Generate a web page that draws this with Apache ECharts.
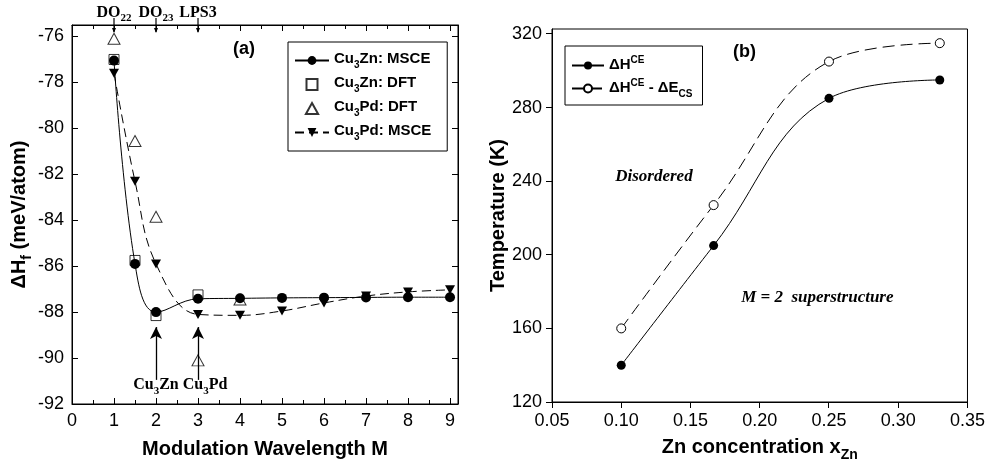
<!DOCTYPE html>
<html><head><meta charset="utf-8">
<script src="https://cdn.jsdelivr.net/npm/echarts@6/dist/echarts.min.js"></script>
<style>html,body{margin:0;padding:0;background:#fff}#c{width:988px;height:467px}</style>
</head><body><div id="c"></div>
<script>
// ---------- Panel (a) data ----------
const M_znMSCE = [1, 1.5, 2, 3, 4, 5, 6, 7, 8, 9];
const cu3znMSCE = [-77.05, -85.9, -88.0, -87.42, -87.4, -87.38, -87.37, -87.36, -87.35, -87.35];
const M_znDFT = [1, 1.5, 2, 3];
const cu3znDFT = [-77.0, -85.75, -88.15, -87.25];
const M_pdDFT = [1, 1.5, 2, 3, 4];
const cu3pdDFT = [-76.1, -80.55, -83.85, -90.1, -87.45];
const M_pdMSCE = [1, 1.5, 2, 3, 4, 5, 6, 7, 8, 9];
const cu3pdMSCE = [-77.6, -82.3, -85.9, -88.1, -88.14, -87.95, -87.6, -87.3, -87.12, -87.03];
const topLabels = {1: '{b|DO}{s|22}', 2: '{b|DO}{s|23}', 3: '{b|LPS3}'};
const groundStates = [{M: 2, name: 'Zn', dx: 0}, {M: 3, name: 'Pd', dx: 7}];

// ---------- Panel (b) data ----------
const xZn = [0.10, 0.1667, 0.25, 0.33];
const dHCE = [140, 205, 285, 295];
const dHCEminusCS = [160, 227, 305, 315];

const zip = (xs, ys) => xs.map((x, i) => [x, ys[i]]);
const BLACK = '#000';
const sans = 'Liberation Sans, Arial, sans-serif';
const serif = 'Liberation Serif, Times New Roman, serif';

const legRich = {
  a: {fontFamily: sans, fontWeight: 'bold', fontSize: 15, color: BLACK, padding: [0, 0, 4, 0], verticalAlign: 'bottom'},
  s: {fontFamily: sans, fontWeight: 'bold', fontSize: 10, color: BLACK, verticalAlign: 'bottom'},
  u: {fontFamily: sans, fontWeight: 'bold', fontSize: 10, color: BLACK, padding: [0, 0, 11, 0], verticalAlign: 'bottom'}
};
const legNames = {
  'Cu3Zn: MSCE': '{a|Cu}{s|3}{a|Zn: MSCE}',
  'Cu3Zn: DFT': '{a|Cu}{s|3}{a|Zn: DFT}',
  'Cu3Pd: DFT': '{a|Cu}{s|3}{a|Pd: DFT}',
  'Cu3Pd: MSCE': '{a|Cu}{s|3}{a|Pd: MSCE}',
  'dHCE': '{a|ΔH}{u|CE}',
  'dHCEcs': '{a|ΔH}{u|CE}{a| - ΔE}{s|CS}'
};

const downTri = 'path://M0,0 L10,0 L5,9 Z';
const squarePath = 'path://M0,0 L10,0 L10,10 L0,10 Z';
const triPath = 'path://M5,0 L10,9 L0,9 Z';

const noTick = {show: false};

const option = {
  animation: false,
  backgroundColor: '#fff',
  grid: [
    {left: 72, top: 25, width: 386, height: 379, show: true, borderColor: BLACK, borderWidth: 1, containLabel: false},
    {left: 552, top: 29, width: 418, height: 376, show: true, borderColor: BLACK, borderWidth: 1, containLabel: false}
  ],
  legend: [
    {
      orient: 'vertical', left: 288, top: 42, width: 150,
      borderColor: BLACK, borderWidth: 1, padding: [9, 16, 9, 6], itemGap: 5,
      itemWidth: 34, itemHeight: 11,
      data: [
        {name: 'Cu3Zn: MSCE'},
        {name: 'Cu3Zn: DFT', icon: squarePath},
        {name: 'Cu3Pd: DFT', icon: triPath},
        {name: 'Cu3Pd: MSCE'}
      ],
      formatter: n => legNames[n],
      textStyle: {rich: legRich}
    },
    {
      orient: 'vertical', left: 565, top: 46,
      borderColor: BLACK, borderWidth: 1, padding: [9, 10, 6, 6], itemGap: 6,
      itemWidth: 32, itemHeight: 10,
      data: ['dHCE', 'dHCEcs'],
      formatter: n => legNames[n],
      textStyle: {rich: legRich}
    }
  ],
  xAxis: [
    {
      gridIndex: 0, type: 'value', position: 'bottom', min: 0, max: 9.19, interval: 1,
      axisLine: {show: true, onZero: false, lineStyle: {color: BLACK}},
      axisTick: noTick, splitLine: {show: false},
      axisLabel: {color: BLACK, fontFamily: sans, fontSize: 18, margin: 8, showMaxLabel: false,
        formatter: v => Number.isInteger(v) ? String(v) : ''},
      name: 'Modulation Wavelength M', nameLocation: 'middle', nameGap: 35,
      nameTextStyle: {color: BLACK, fontFamily: sans, fontWeight: 'bold', fontSize: 20}
    },
    {
      gridIndex: 0, type: 'value', position: 'top', min: 0, max: 9.19, interval: 1,
      axisLine: {show: true, onZero: false, lineStyle: {color: BLACK}},
      axisTick: noTick, splitLine: {show: false},
      axisLabel: {margin: 1, showMaxLabel: false, formatter: v => topLabels[v] || '',
        rich: {
          b: {fontFamily: serif, fontWeight: 'bold', fontSize: 16, color: BLACK, padding: [0, 0, 3, 0], verticalAlign: 'bottom'},
          s: {fontFamily: serif, fontWeight: 'bold', fontSize: 11, color: BLACK, verticalAlign: 'bottom'}
        }}
    },
    {
      gridIndex: 1, type: 'value', min: 0.05, max: 0.35, interval: 0.05,
      axisLine: {show: true, onZero: false, lineStyle: {color: BLACK}},
      axisTick: noTick, splitLine: {show: false},
      axisLabel: {color: BLACK, fontFamily: sans, fontSize: 18, margin: 10, formatter: v => v.toFixed(2)},
      name: '{a|Zn concentration x}{s|Zn}', nameLocation: 'middle', nameGap: 35,
      nameTextStyle: {rich: {
        a: {color: BLACK, fontFamily: sans, fontWeight: 'bold', fontSize: 20, padding: [0, 0, 5, 0], verticalAlign: 'bottom'},
        s: {color: BLACK, fontFamily: sans, fontWeight: 'bold', fontSize: 14, verticalAlign: 'bottom'}
      }}
    }
  ],
  yAxis: [
    {
      gridIndex: 0, type: 'value', position: 'left', min: -92, max: -75.5, interval: 2,
      axisLine: {show: true, onZero: false, lineStyle: {color: BLACK}},
      axisTick: noTick, splitLine: {show: false},
      axisLabel: {color: BLACK, fontFamily: sans, fontSize: 18, margin: 8, showMaxLabel: false},
      name: '{a|ΔH}{s|f}{a| (meV/atom)}', nameLocation: 'middle', nameGap: 34, nameRotate: 90,
      nameTextStyle: {rich: {
        a: {color: BLACK, fontFamily: sans, fontWeight: 'bold', fontSize: 20, padding: [0, 0, 5, 0], verticalAlign: 'bottom'},
        s: {color: BLACK, fontFamily: sans, fontWeight: 'bold', fontSize: 14, verticalAlign: 'bottom'}
      }}
    },
    {
      gridIndex: 0, type: 'value', position: 'right', min: -92, max: -75.5, interval: 2,
      axisLine: {show: true, onZero: false, lineStyle: {color: BLACK}},
      axisTick: noTick, splitLine: {show: false}, axisLabel: {show: false}
    },
    {
      gridIndex: 1, type: 'value', min: 120, max: 322.7, interval: 40,
      axisLine: {show: true, onZero: false, lineStyle: {color: BLACK}},
      axisTick: noTick, splitLine: {show: false},
      axisLabel: {color: BLACK, fontFamily: sans, fontSize: 18, margin: 10, showMaxLabel: false},
      name: 'Temperature (K)', nameLocation: 'middle', nameGap: 41, nameRotate: 90,
      nameTextStyle: {color: BLACK, fontFamily: sans, fontWeight: 'bold', fontSize: 20}
    }
  ],
  series: [
    {
      name: 'Cu3Zn: DFT', type: 'scatter', xAxisIndex: 0, yAxisIndex: 0,
      data: zip(M_znDFT, cu3znDFT), symbol: 'rect', symbolSize: 10,
      itemStyle: {color: '#fff', borderColor: BLACK, borderWidth: 1}
    },
    {
      name: 'Cu3Pd: DFT', type: 'scatter', xAxisIndex: 0, yAxisIndex: 0,
      data: zip(M_pdDFT, cu3pdDFT), symbol: 'triangle', symbolSize: [12, 11],
      itemStyle: {color: '#fff', borderColor: BLACK, borderWidth: 1}
    },
    {
      name: 'Cu3Zn: MSCE', type: 'line', xAxisIndex: 0, yAxisIndex: 0, smooth: 0.4,
      data: zip(M_znMSCE, cu3znMSCE), symbol: 'circle', symbolSize: 10, showAllSymbol: true,
      lineStyle: {color: BLACK, width: 1}, itemStyle: {color: BLACK},
      markLine: {
        silent: true, symbol: ['none', 'arrow'], symbolSize: [9, 12],
        lineStyle: {color: BLACK, width: 1.3, type: 'solid'}, label: {show: false},
        data: groundStates.map(g => [{coord: [g.M, -90.95]}, {coord: [g.M, -88.65]}])
      },
      markPoint: {
        silent: true, symbol: 'circle', symbolSize: 1, itemStyle: {color: 'rgba(0,0,0,0)'},
        label: {show: true, position: 'inside',
          rich: {
            b: {fontFamily: serif, fontWeight: 'bold', fontSize: 16, color: BLACK, padding: [0, 0, 4, 0], verticalAlign: 'bottom'},
            s: {fontFamily: serif, fontWeight: 'bold', fontSize: 11, color: BLACK, verticalAlign: 'bottom'}
          }},
        data: groundStates.map(g => ({coord: [g.M, -91.25],
          label: {offset: [g.dx, 0], formatter: '{b|Cu}{s|3}{b|' + g.name + '}'}}))
      }
    },
    {
      name: 'Cu3Pd: MSCE', type: 'line', xAxisIndex: 0, yAxisIndex: 0, smooth: 0.4,
      data: zip(M_pdMSCE, cu3pdMSCE), symbol: downTri, symbolSize: [10, 9], showAllSymbol: true,
      lineStyle: {color: BLACK, width: 1, type: [9, 5]}, itemStyle: {color: BLACK}
    },
    {
      name: 'dHCE', type: 'line', xAxisIndex: 2, yAxisIndex: 2, smooth: 0.4,
      data: zip(xZn, dHCE), symbol: 'circle', symbolSize: 9,
      lineStyle: {color: BLACK, width: 1}, itemStyle: {color: BLACK},
      markPoint: {
        silent: true, symbol: 'circle', symbolSize: 1, itemStyle: {color: 'rgba(0,0,0,0)'},
        label: {show: true, position: 'inside', fontFamily: serif, fontWeight: 'bold', fontStyle: 'italic', fontSize: 17, color: BLACK},
        data: [
          {coord: [0.1236, 242.6], label: {formatter: 'Disordered'}},
          {coord: [0.2416, 176.7], label: {formatter: 'M = 2  superstructure'}}
        ]
      }
    },
    {
      name: 'dHCEcs', type: 'line', xAxisIndex: 2, yAxisIndex: 2, smooth: 0.4,
      data: zip(xZn, dHCEminusCS), symbol: 'circle', symbolSize: 9,
      lineStyle: {color: BLACK, width: 1, type: [12, 6]}, itemStyle: {color: '#fff', borderColor: BLACK, borderWidth: 1}
    }
  ]
};

const chart = echarts.init(document.getElementById('c'), null, {renderer: 'canvas'});
chart.setOption(option);

const extra = [
  {type: 'text', left: 233, top: 40, style: {text: '(a)', font: 'bold 18px ' + sans, fill: BLACK}},
  {type: 'text', left: 733, top: 43, style: {text: '(b)', font: 'bold 18px ' + sans, fill: BLACK}}
];
const seg = (x1, y1, x2, y2) => extra.push({type: 'line', silent: true, z: 100, zlevel: 0,
  shape: {x1: x1, y1: y1, x2: x2, y2: y2}, style: {stroke: BLACK, lineWidth: 1}});
const crisp = v => Math.round(v - 0.5) + 0.5;

// tick values stepped by each axis' interval from its min, placed through the chart's own scales
function tickValues(axisOpt, step) {
  const out = [];
  for (let i = 0; ; i++) {
    const v = +(axisOpt.min + i * step).toFixed(6);
    if (v > axisOpt.max + 1e-9) break;
    out.push(v);
  }
  return out;
}
// xTicks: along an x axis at data y = yAt; dir -1 = upward in pixels
function xTicks(xi, yi, yAt, dir, step, len) {
  tickValues(option.xAxis[xi], step).forEach(v => {
    const p = chart.convertToPixel({xAxisIndex: xi, yAxisIndex: yi}, [v, yAt]);
    if (!p) return;
    const x = crisp(p[0]), y = Math.round(p[1]);
    seg(x, y, x, y + dir * len);
  });
}
function yTicks(xi, yi, xAt, dir, step, len) {
  tickValues(option.yAxis[yi], step).forEach(v => {
    const p = chart.convertToPixel({xAxisIndex: xi, yAxisIndex: yi}, [xAt, v]);
    if (!p) return;
    const x = Math.round(p[0]), y = crisp(p[1]);
    seg(x, y, x + dir * len, y);
  });
}
const ax0 = option.xAxis[0], ay0 = option.yAxis[0], ax2 = option.xAxis[2], ay2 = option.yAxis[2];
xTicks(0, 0, ay0.min, -1, ax0.interval, 6);          // panel a bottom, major inward
xTicks(0, 0, ay0.min, -1, ax0.interval / 2, 4);      // panel a bottom, minor
xTicks(0, 0, ay0.max, +1, ax0.interval, 6);          // panel a top
xTicks(0, 0, ay0.max, +1, ax0.interval / 2, 4);
yTicks(0, 0, ax0.min, +1, ay0.interval, 6);          // panel a left, inward
yTicks(0, 0, ax0.max, -1, ay0.interval, 6);          // panel a right, inward
xTicks(2, 2, ay2.min, +1, ax2.interval, 6);          // panel b bottom, outward
yTicks(2, 2, ax2.min, -1, ay2.interval, 6);          // panel b left, outward

// small arrows from the structure labels down onto the top axis
Object.keys(topLabels).forEach(k => {
  const p = chart.convertToPixel({xAxisIndex: 0, yAxisIndex: 0}, [+k, ay0.max]);
  extra.push({type: 'line', silent: true, z: 100,
    shape: {x1: p[0], y1: p[1] - 7, x2: p[0], y2: p[1] + 7}, style: {stroke: BLACK, lineWidth: 1.2}});
  extra.push({type: 'polygon', silent: true, z: 100,
    shape: {points: [[p[0] - 2, p[1] + 3], [p[0] + 2, p[1] + 3], [p[0], p[1] + 8]]}, style: {fill: BLACK}});
});
chart.setOption({graphic: extra});
</script>
</body></html>
